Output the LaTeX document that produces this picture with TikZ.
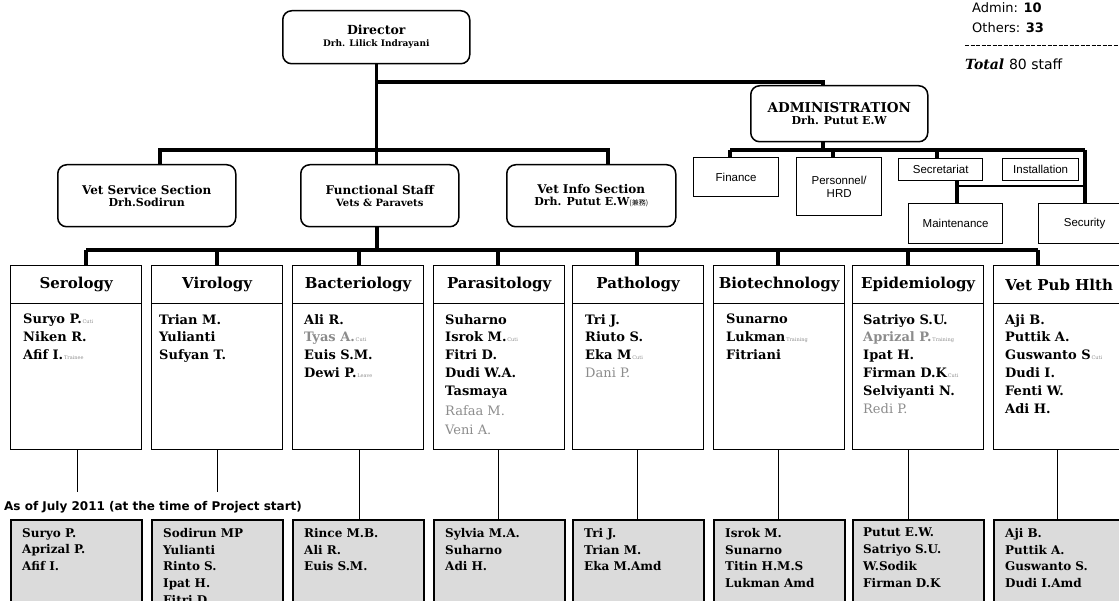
\documentclass[tikz,border=0pt]{standalone}
\usepackage{fontspec}
\setmainfont{DejaVu Serif}
\newfontfamily\lsans{Liberation Sans}
\newfontfamily\dsans{DejaVu Sans}
\newfontfamily\jpfont{Noto Sans CJK JP}
\usetikzlibrary{calc}
\definecolor{shade}{gray}{0.86}
\definecolor{faded}{gray}{0.55}
\newcommand{\smallnote}[1]{{\mdseries\fontsize{5}{5}\selectfont\color{faded}\,#1}}
\tikzset{
 rbox/.style={draw, line width=1.5pt, rounded corners=9pt, align=center, anchor=north west, inner sep=0pt},
 sbox/.style={draw, line width=1.3pt, align=center, anchor=north west, inner sep=0pt, font=\lsans\fontsize{11.5}{13.5}\selectfont},
 hdbox/.style={draw, line width=1.3pt, anchor=north west, minimum width=131pt, minimum height=38pt, inner sep=0pt, font=\bfseries\fontsize{15}{17}\selectfont},
 bdbox/.style={draw, line width=1.3pt, anchor=north west, minimum width=131pt, minimum height=146pt, inner sep=0pt},
 names/.style={anchor=north west, align=left, inner sep=0pt, font=\bfseries\fontsize{13}{17.8}\selectfont},
 lowbox/.style={draw, line width=1.8pt, fill=shade, anchor=north west, minimum width=131pt, minimum height=100pt, inner sep=0pt},
 lownames/.style={anchor=north west, align=left, inner sep=0pt, font=\bfseries\fontsize{12}{16.7}\selectfont},
 trunk/.style={line width=3.5pt},
 twig/.style={line width=0.8pt},
 plain/.style={anchor=west, inner sep=0pt},
}
\begin{document}
\begin{tikzpicture}[x=1pt,y=-1pt]
\useasboundingbox (0,0) rectangle (1119,601);
\clip (0,0) rectangle (1119,601);

% top level
\node[rbox, minimum width=187pt, minimum height=53pt] (dir) at (282,10)
 {{\bfseries\fontsize{12.5}{14}\selectfont Director}\\{\bfseries\fontsize{9}{11}\selectfont Drh. Lilick Indrayani}};
\node[rbox, minimum width=177pt, minimum height=56pt] (adm) at (750,85)
 {{\bfseries\fontsize{13.5}{16}\selectfont ADMINISTRATION}\\{\bfseries\fontsize{11}{13}\selectfont Drh. Putut E.W}};
\node[rbox, minimum width=178pt, minimum height=62pt] (vs) at (57,164)
 {{\bfseries\fontsize{12}{16}\selectfont Vet Service Section}\\{\bfseries\fontsize{11}{13}\selectfont Drh.Sodirun}};
\node[rbox, minimum width=158pt, minimum height=62pt] (fs) at (300,164)
 {{\bfseries\fontsize{12}{16}\selectfont Functional Staff}\\{\bfseries\fontsize{10}{13}\selectfont Vets \& Paravets}};
\node[rbox, minimum width=169pt, minimum height=62pt] (vi) at (506,164)
 {{\bfseries\fontsize{12}{16}\selectfont Vet Info Section}\\{\bfseries\fontsize{11}{13}\selectfont Drh. Putut E.W{\jpfont\mdseries\fontsize{7}{8}\selectfont (兼務)}}};

% admin units
\node[sbox, minimum width=85pt, minimum height=39pt] (fin) at (693,157) {Finance};
\node[sbox, minimum width=85pt, minimum height=58pt] (per) at (796,157) {Personnel/\\HRD};
\node[sbox, minimum width=84pt, minimum height=22pt] (sec) at (898,158) {Secretariat};
\node[sbox, minimum width=76pt, minimum height=22pt] (ins) at (1002,158) {Installation};
\node[sbox, minimum width=94pt, minimum height=40pt] (mnt) at (908,203) {Maintenance};
\node[sbox, minimum width=92pt, minimum height=40pt] (scy) at (1038,203) {Security};

% totals
\node[plain] (cadm) at (972,8) {\dsans\fontsize{13}{15}\selectfont Admin: \textbf{10}};
\node[plain] (coth) at (972,28) {\dsans\fontsize{13}{15}\selectfont Others: \textbf{33}};
\coordinate (dl) at (965,46);
\coordinate (dr) at (1119,46);
\draw[line width=1pt, dash pattern=on 4pt off 1.5pt] (dl) -- (dr);
\node[plain] (ctot) at (965,64) {\fontsize{14}{16}\selectfont\bfseries\itshape Total {\dsans\mdseries\upshape 80 staff}};

% labs
\foreach \i/\x/\t in {1/10/Serology,2/151/Virology,3/292/Bacteriology,4/433/Parasitology,5/572/Pathology,6/713/Biotechnology,7/852/Epidemiology,8/993/Vet Pub Hlth}{
  \node[hdbox] (h\i) at (\x,265) {\t};
  \node[bdbox] (b\i) at (\x,303) {};
  \node[lowbox] (l\i) at (\x,519) {};
}
\node[names] (n1) at ($(b1.north west)+(13,11)$) {Suryo P.\smallnote{Cuti}\\Niken R.\\Afif I.\smallnote{Trainee}};
\node[names] (n2) at ($(b2.north west)+(8,11)$) {Trian M.\\Yulianti\\Sufyan T.};
\node[names] (n3) at ($(b3.north west)+(12,11)$) {Ali R.\\{\color{faded}Tyas A.}\smallnote{Cuti}\\Euis S.M.\\Dewi P.\smallnote{Leave}};
\node[names] (n4) at ($(b4.north west)+(12,11)$) {Suharno\\Isrok M.\smallnote{Cuti}\\Fitri D.\\Dudi W.A.\\Tasmaya\\[2pt]{\mdseries\color{faded}Rafaa M.}\\[2pt]{\mdseries\color{faded}Veni A.}};
\node[names] (n5) at ($(b5.north west)+(13,11)$) {Tri J.\\Riuto S.\\Eka M\smallnote{Cuti}\\{\mdseries\color{faded}Dani P.}};
\node[names] (n6) at ($(b6.north west)+(13,11)$) {Sunarno\\Lukman\smallnote{Training}\\Fitriani};
\node[names] (n7) at ($(b7.north west)+(11,11)$) {Satriyo S.U.\\{\color{faded}Aprizal P.}\smallnote{Training}\\Ipat H.\\Firman D.K\smallnote{Cuti}\\Selviyanti N.\\{\mdseries\color{faded}Redi P.}};
\node[names] (n8) at ($(b8.north west)+(12,11)$) {Aji B.\\Puttik A.\\Guswanto S\smallnote{Cuti}\\Dudi I.\\Fenti W.\\Adi H.};

% lower (July 2011) boxes
\node[plain, font=\dsans\bfseries\fontsize{12}{14}\selectfont] (asof) at (4,507) {As of July 2011 (at the time of Project start)};
\node[lownames] (m1) at ($(l1.north west)+(12,9)$) {Suryo P.\\Aprizal P.\\Afif I.};
\node[lownames] (m2) at ($(l2.north west)+(12,9)$) {Sodirun MP\\Yulianti\\Rinto S.\\Ipat H.\\Fitri D.};
\node[lownames] (m3) at ($(l3.north west)+(12,9)$) {Rince M.B.\\Ali R.\\Euis S.M.};
\node[lownames] (m4) at ($(l4.north west)+(12,9)$) {Sylvia M.A.\\Suharno\\Adi H.};
\node[lownames] (m5) at ($(l5.north west)+(12,9)$) {Tri J.\\Trian M.\\Eka M.Amd};
\node[lownames] (m6) at ($(l6.north west)+(12,9)$) {Isrok M.\\Sunarno\\Titin H.M.S\\Lukman Amd};
\node[lownames] (m7) at ($(l7.north west)+(11,9)$) {Putut E.W.\\Satriyo S.U.\\W.Sodik\\Firman D.K};
\node[lownames] (m8) at ($(l8.north west)+(12,9)$) {Aji B.\\Puttik A.\\Guswanto S.\\Dudi I.Amd};

% connectors: director
\coordinate (ak) at (823,82);
\coordinate (vsj) at (160,150);
\coordinate (vij) at (608,150);
\draw[trunk] (dir.south) -- (dir.south |- fs.north);
\draw[trunk] (dir.south |- ak) -- (ak) -- (ak |- adm.north);
\draw[trunk] (vs.north -| vsj) -- (vsj) -- (vij) -- (vi.north -| vij);

% admin subtree
\coordinate (sj) at (823,150);
\coordinate (finj) at (730,150);
\coordinate (perj) at (833,150);
\coordinate (secj) at (937,150);
\coordinate (scyj) at (1085,150);
\coordinate (mj) at (957,186);
\draw[trunk] (adm.south -| sj) -- (sj);
\draw[trunk] (finj) -- (scyj);
\draw[trunk] (finj) -- (finj |- fin.north);
\draw[trunk] (perj) -- (perj |- per.north);
\draw[trunk] (secj) -- (secj |- sec.north);
\draw[trunk] (scyj) -- (scyj |- scy.north);
\draw[trunk] (sec.south -| mj) -- (mj |- mnt.north);
\draw[line width=1.2pt] (mj) -- (mj -| scyj);

% labs trunk
\coordinate (lj) at (377,250);
\draw[trunk] (fs.south -| lj) -- (lj);
\foreach \i/\x in {1/86,2/217,3/359,4/498,5/637,6/778,7/908,8/1038}{
  \coordinate (t\i) at (\x,250);
  \draw[trunk] (t\i) -- (t\i |- h\i.north);
}
\draw[trunk] (t1) -- (t8);

% thin lines to lower boxes
\coordinate (e1) at (77,492);
\coordinate (e2) at (217,492);
\draw[twig] (b1.south -| e1) -- (e1);
\draw[twig] (b2.south -| e2) -- (e2);
\foreach \i/\x in {3/359,4/498,5/637,6/778,7/908,8/1057}{
  \coordinate (e\i) at (\x,449);
  \draw[twig] (e\i) -- (e\i |- l\i.north);
}
\end{tikzpicture}
\end{document}
